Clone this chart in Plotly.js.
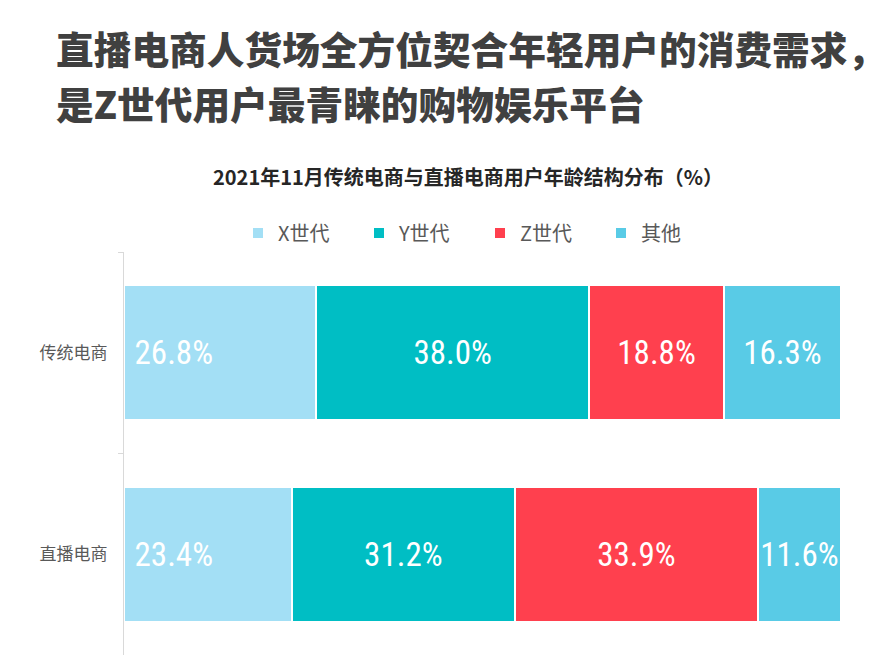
<!DOCTYPE html>
<html>
<head>
<meta charset="utf-8">
<script src="https://cdn.plot.ly/plotly-3.0.1.min.js"></script>
<style>html,body{margin:0;padding:0;background:#fff;}#chart{width:896px;height:658px;}</style>
</head>
<body>
<div id="chart"></div>
<script>
const categories = ['传统电商', '直播电商'];
const seriesNames = ['X世代', 'Y世代', 'Z世代', '其他'];
const xGen = [26.8, 23.4];
const yGen = [38.0, 31.2];
const zGen = [18.8, 33.9];
const others = [16.3, 11.6];
const colors = ['#a3dff5', '#00bec4', '#ff404e', '#59cbe6'];
const titleLines = ['直播电商人货场全方位契合年轻用户的消费需求，', '是Z世代用户最青睐的购物娱乐平台'];
const subtitle = '2021年11月传统电商与直播电商用户年龄结构分布（%）';

const valueFont = {family: '"Liberation Sans Narrow", "Roboto Condensed", Roboto, sans-serif', size: 33, color: '#ffffff', stretch: 'condensed'};
const series = [xGen, yGen, zGen, others];
const traces = series.map((vals, i) => ({
  type: 'bar',
  orientation: 'h',
  name: seriesNames[i],
  y: categories,
  x: vals,
  text: vals.map(v => (i === 0 ? '\u00a0' : '') + v.toFixed(1) + '%'),
  textposition: 'inside',
  insidetextanchor: i === 0 ? 'start' : 'middle',
  textangle: 0,
  textfont: valueFont,
  constraintext: 'none',
  marker: {color: colors[i], line: {color: '#ffffff', width: 2}},
  hoverinfo: 'none'
}));

const plotH = 658 - 252 - 3, plotW = 896 - 124 - 55;
const px = x => (x - 124) / plotW;
const py = y => (658 - 3 - y) / plotH;

const layout = {
  width: 896, height: 658,
  margin: {l: 124, r: 55, t: 252, b: 3, pad: 0},
  paper_bgcolor: '#ffffff', plot_bgcolor: '#ffffff',
  barmode: 'stack', barnorm: 'percent', bargap: 0.33,
  font: {family: '"Noto Sans CJK SC", sans-serif', color: '#595959'},
  showlegend: true,
  legend: {
    orientation: 'h', x: px(238), xanchor: 'left', y: py(233), yanchor: 'middle',
    entrywidth: 76, entrywidthmode: 'pixels', itemwidth: 30,
    font: {family: '"Noto Sans CJK SC", sans-serif', size: 20, color: '#595959'},
    traceorder: 'normal'
  },
  xaxis: {range: [0, 100], visible: false, fixedrange: true},
  yaxis: {
    type: 'category', categoryorder: 'array', categoryarray: categories,
    autorange: 'reversed', showline: true, linecolor: '#d9d9d9', linewidth: 1,
    ticks: 'outside', tickson: 'boundaries', ticklen: 5, tickcolor: '#d9d9d9',
    showgrid: false, zeroline: false,
    tickfont: {family: '"Noto Sans CJK SC", sans-serif', size: 17, color: '#595959'},
    ticklabelstandoff: 12
  },
  annotations: [
    {text: titleLines[0], xref: 'paper', yref: 'paper', x: px(54), y: py(47), xanchor: 'left', yanchor: 'middle', showarrow: false,
     font: {family: '"Noto Sans CJK SC", sans-serif', size: 37.7, weight: 900, color: '#404040'}},
    {text: titleLines[1], xref: 'paper', yref: 'paper', x: px(54), y: py(103), xanchor: 'left', yanchor: 'middle', showarrow: false,
     font: {family: '"Noto Sans CJK SC", sans-serif', size: 37.7, weight: 900, color: '#404040'}},
    {text: subtitle, xref: 'paper', yref: 'paper', x: px(468), y: py(176), xanchor: 'center', yanchor: 'middle', showarrow: false,
     font: {family: '"Noto Sans CJK SC", sans-serif', size: 20, weight: 700, color: '#262626'}}
  ]
};

Plotly.newPlot('chart', traces, layout, {displayModeBar: false, staticPlot: true});
</script>
</body>
</html>
